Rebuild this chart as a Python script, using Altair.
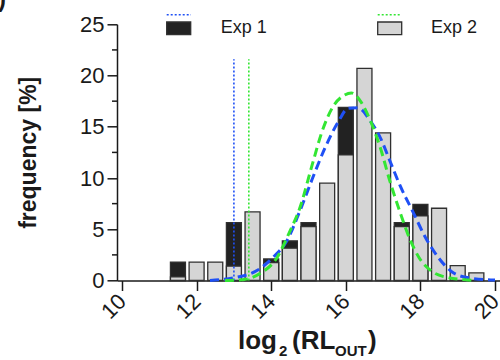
import altair as alt
import pandas as pd

# ---------------- data ----------------
bin_centers = [11.5, 12.0, 12.5, 13.0, 13.5, 14.0, 14.5, 15.0, 15.5, 16.0,
               16.5, 17.0, 17.5, 18.0, 18.5, 19.0, 19.5]
exp2_pct = [0.35, 1.8, 1.8, 1.4, 6.7, 1.75, 3.15, 5.25, 9.5, 12.25,
            20.7, 14.4, 5.25, 6.3, 7.05, 1.45, 0.75]
# Exp 1 only where it shows above Exp 2 (hidden elsewhere)
exp1_pct = [1.8, None, None, 5.65, None, 2.1, 3.87, 5.65, None, 16.9,
            None, None, 5.65, 7.42, None, None, None]

blue_x = [12.36, 13.0, 13.63, 14.06, 14.41, 14.76, 15.10, 15.45, 15.80, 16.06,
          16.32, 16.67, 16.93, 17.19, 17.45, 17.80, 18.15, 18.49, 18.84, 19.28,
          19.89, 20.0]
blue_y = [0.0, 0.27, 1.0, 2.3, 3.8, 6.7, 9.9, 13.0, 15.5, 16.8,
          16.86, 15.5, 13.9, 11.6, 9.3, 6.7, 4.1, 2.2, 0.86, 0.27,
          0.05, 0.04]
green_x = [12.76, 13.28, 13.71, 14.15, 14.50, 14.76, 15.10, 15.36, 15.63, 15.97,
           16.15, 16.41, 16.67, 16.93, 17.19, 17.45, 17.71, 17.97, 18.32, 18.76,
           19.28, 19.45]
green_y = [0.0, 0.1, 0.7, 2.2, 4.8, 7.0, 11.3, 14.5, 16.8, 18.1,
           18.3, 17.4, 15.5, 12.9, 9.6, 6.7, 4.1, 2.2, 0.86, 0.27,
           0.05, 0.0]

threshold_x = [13.0, 13.4]
threshold_top = 21.6
threshold_series = ["Exp 1", "Exp 2"]

x_ticks = [10, 12, 14, 16, 18, 20]
y_ticks = [0, 5, 10, 15, 20, 25]
y_minor = [2.5, 7.5, 12.5, 17.5, 22.5]

BLUE = "#1f50f5"
GREEN = "#33e633"
DARK = "#222222"
LIGHT = "#d5d5d5"
EDGE = "#303030"
AX = "#1a1a1a"
FONT = "Liberation Sans"

# ---------------- tables ----------------
df_e2 = pd.DataFrame({"x": bin_centers, "y": exp2_pct})
df_e1 = pd.DataFrame({"x": bin_centers, "y": exp1_pct}).dropna()
df_curves = pd.concat([
    pd.DataFrame({"x": blue_x, "y": blue_y, "s": "Exp 1", "c": BLUE}),
    pd.DataFrame({"x": green_x, "y": green_y, "s": "Exp 2", "c": GREEN}),
])
df_thr = pd.DataFrame({"x": threshold_x, "y": [0, 0], "y2": [threshold_top] * 2,
                       "s": threshold_series, "c": [BLUE, GREEN]})
df_minor = pd.DataFrame({"y": y_minor})
one = pd.DataFrame({"k": [0]})

xs = alt.Scale(domain=[10, 20], nice=False, zero=False)
ys = alt.Scale(domain=[0, 25], nice=False, zero=True)

x_axis = alt.Axis(values=x_ticks, grid=False, tickSize=10, tickWidth=1.5,
                  domainWidth=1.5, domainColor=AX, tickColor=AX,
                  labelAngle=-45, labelAlign="right", labelBaseline="middle",
                  labelPadding=7, labelFontSize=22, labelColor=AX, labelFont=FONT,
                  labelOverlap=False, labelFlush=False, title="")
y_axis = alt.Axis(values=y_ticks, grid=False, tickSize=10, tickWidth=1.5,
                  domainWidth=1.5, domainColor=AX, tickColor=AX,
                  labelPadding=3, labelFontSize=22, labelColor=AX, labelFont=FONT,
                  title="frequency [%]", titleFontSize=23, titleFontWeight="bold",
                  titleFont=FONT, titleColor=AX, titleAngle=270,
                  titleX=-88.5, titleY=128, titleAlign="center",
                  titleBaseline="middle")

X = alt.X("x:Q", scale=xs, axis=x_axis)
Y = alt.Y("y:Q", scale=ys, axis=y_axis)

bars1 = alt.Chart(df_e1).mark_bar(size=15, fill=DARK, stroke=EDGE,
                                  strokeWidth=1.3).encode(x=X, y=Y)
bars2 = alt.Chart(df_e2).mark_bar(size=15, fill=LIGHT, stroke=EDGE,
                                  strokeWidth=1.3).encode(x=X, y=Y)

thr = alt.Chart(df_thr).mark_rule(strokeDash=[2, 2], strokeWidth=1.6).encode(
    x=X, y=Y, y2="y2:Q", color=alt.Color("c:N", scale=None))

curves = alt.Chart(df_curves).mark_line(strokeDash=[9, 5], strokeWidth=3,
                                        interpolate="monotone").encode(
    x=X, y=Y, color=alt.Color("c:N", scale=None), detail="s:N",
    order=alt.Order("x:Q"))

minor = alt.Chart(df_minor).mark_rule(color=AX, strokeWidth=1.5).encode(
    y=Y, x=alt.value(-5), x2=alt.value(0))

# ---------------- legend (manual, as in reference) ----------------
def box(x0, x1, fill):
    return alt.Chart(one).mark_rect(fill=fill, stroke=EDGE, strokeWidth=1.3).encode(
        x=alt.value(x0), x2=alt.value(x1), y=alt.value(-2.3), y2=alt.value(10.4))

def dotted(x0, x1, col):
    return alt.Chart(one).mark_rule(color=col, strokeDash=[2, 2], strokeWidth=1.5).encode(
        x=alt.value(x0), x2=alt.value(x1), y=alt.value(-9.6))

def label(txt, x0, y0, size, weight="normal", align="left"):
    return alt.Chart(one).mark_text(text=txt, font=FONT, fontSize=size,
                                    fontWeight=weight, color=AX, align=align,
                                    baseline="alphabetic").encode(
        x=alt.value(x0), y=alt.value(y0))

legend = [
    dotted(49.7, 74, BLUE), box(49.7, 73.7, DARK), label("Exp 1", 103.7, 9, 18),
    dotted(260.7, 284.7, GREEN), box(260.7, 284.7, LIGHT), label("Exp 2", 314, 9, 18),
]

# ---------------- x title with subscripts ----------------
xt = [
    label("log", 121, 325, 26, "bold"),
    label("2", 162, 332, 15, "bold"),
    label("(RL", 175, 325, 26, "bold"),
    label("OUT", 218, 332, 15, "bold"),
    label(")", 251, 325, 26, "bold"),
]
panel = label(")", -111, -17, 24, "bold", "right")

chart = alt.layer(bars1, bars2, thr, curves, minor, *legend, *xt, panel).properties(
    width=383, height=256.2,
    autosize=alt.AutoSizeParams(type="none"),
    padding={"left": 117, "top": 24.3, "right": 0, "bottom": 79.5},
    background="white",
).configure_view(stroke=None)

chart.save("out.html", embed_options={"renderer": "svg", "actions": False})
